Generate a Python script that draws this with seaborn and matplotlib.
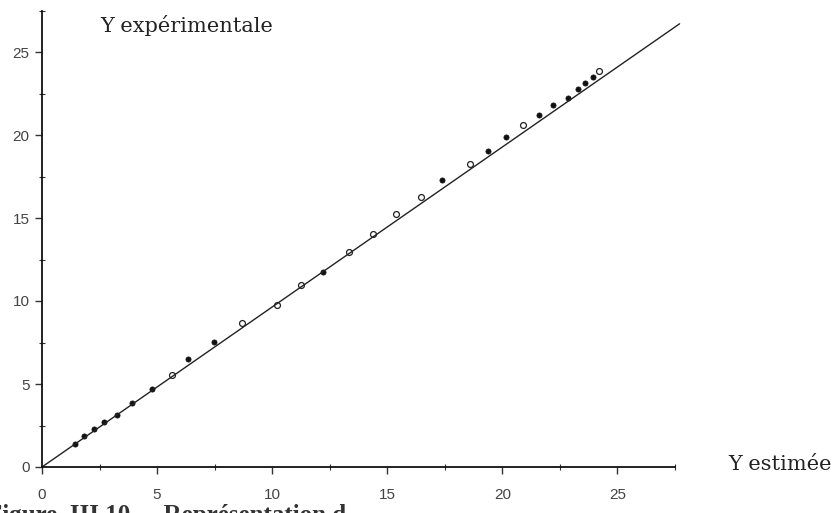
import matplotlib
matplotlib.use("Agg")
import matplotlib.pyplot as plt
import seaborn as sns
import pandas as pd
from matplotlib.ticker import MultipleLocator

# ---- data ----
y_est = [1.42, 1.81, 2.25, 2.68, 3.25, 3.90, 4.80, 5.63, 6.35, 7.49,
         8.69, 10.20, 11.26, 12.20, 13.35, 14.39, 15.38, 16.45, 17.39, 18.58,
         19.38, 20.17, 20.90, 21.60, 22.20, 22.86, 23.28, 23.60, 23.94, 24.20]
y_exp = [1.39, 1.87, 2.29, 2.71, 3.13, 3.87, 4.68, 5.52, 6.50, 7.55,
         8.66, 9.78, 10.96, 11.77, 12.93, 14.04, 15.22, 16.28, 17.31, 18.25,
         19.05, 19.90, 20.60, 21.20, 21.80, 22.20, 22.80, 23.15, 23.48, 23.87]
marker_kind = ["plein", "plein", "plein", "plein", "plein", "plein", "plein", "creux", "plein", "plein",
               "creux", "creux", "creux", "plein", "creux", "creux", "creux", "creux", "plein", "creux",
               "plein", "plein", "creux", "plein", "plein", "plein", "plein", "plein", "plein", "creux"]
fit_x = [0.0, 27.7]
fit_y = [0.0, 26.7]
x_ticks = [0, 5, 10, 15, 20, 25]
y_ticks = [0, 5, 10, 15, 20, 25]
x_label = "Y estimée"
y_label = "Y expérimentale"
caption = "Figure  III.10  -  Représentation d"

df = pd.DataFrame({"est": y_est, "exp": y_exp, "kind": marker_kind})
line_df = pd.DataFrame({"x": fit_x, "y": fit_y})

sns.set_theme(style="white")
plt.rcParams["font.family"] = ["Liberation Sans", "DejaVu Sans"]

fig = plt.figure(figsize=(8.39, 5.13), dpi=100)
ax = fig.add_axes([42 / 839, 46 / 513, 633 / 839, 456.5 / 513])

sns.lineplot(data=line_df, x="x", y="y", ax=ax, color="#222222", linewidth=1.0, clip_on=False)
sns.scatterplot(data=df[df.kind == "plein"], x="est", y="exp", ax=ax, color="#111111",
                s=14, edgecolor="#111111", linewidth=0.5, clip_on=False)
sns.scatterplot(data=df[df.kind == "creux"], x="est", y="exp", ax=ax, facecolor="white",
                s=18, edgecolor="#222222", linewidth=0.9, clip_on=False)

ax.set_xlim(0, 27.5)
ax.set_ylim(0, 27.5)
ax.set_xticks(x_ticks)
ax.set_yticks(y_ticks)
ax.xaxis.set_minor_locator(MultipleLocator(2.5))
ax.yaxis.set_minor_locator(MultipleLocator(2.5))
ax.set_xlabel("")
ax.set_ylabel("")

for side in ["top", "right"]:
    ax.spines[side].set_visible(False)
for side in ["left", "bottom"]:
    ax.spines[side].set_color("#111111")
    ax.spines[side].set_linewidth(1.3)

ax.tick_params(axis="both", which="major", direction="out", length=5, width=1.0,
               color="#333333", labelcolor="#444444", labelsize=11,
               bottom=True, left=True)
ax.tick_params(axis="x", which="major", pad=10)
ax.tick_params(axis="y", which="major", pad=4)
ax.tick_params(axis="both", which="minor", direction="inout", length=4, width=0.8,
               color="#333333", bottom=True, left=True)

fig.text(100 / 839, 1 - 26 / 513, y_label, family="DejaVu Serif", fontsize=15,
         color="#222222", ha="left", va="center")
fig.text(728 / 839, 1 - 464 / 513, x_label, family="DejaVu Serif", fontsize=15,
         color="#222222", ha="left", va="center")
fig.text(-13 / 839, 1 - 504 / 513, caption, family="Liberation Serif", fontsize=18,
         fontweight="bold", color="#333333", ha="left", va="top")

fig.savefig("out.png", dpi=100, facecolor="white")
